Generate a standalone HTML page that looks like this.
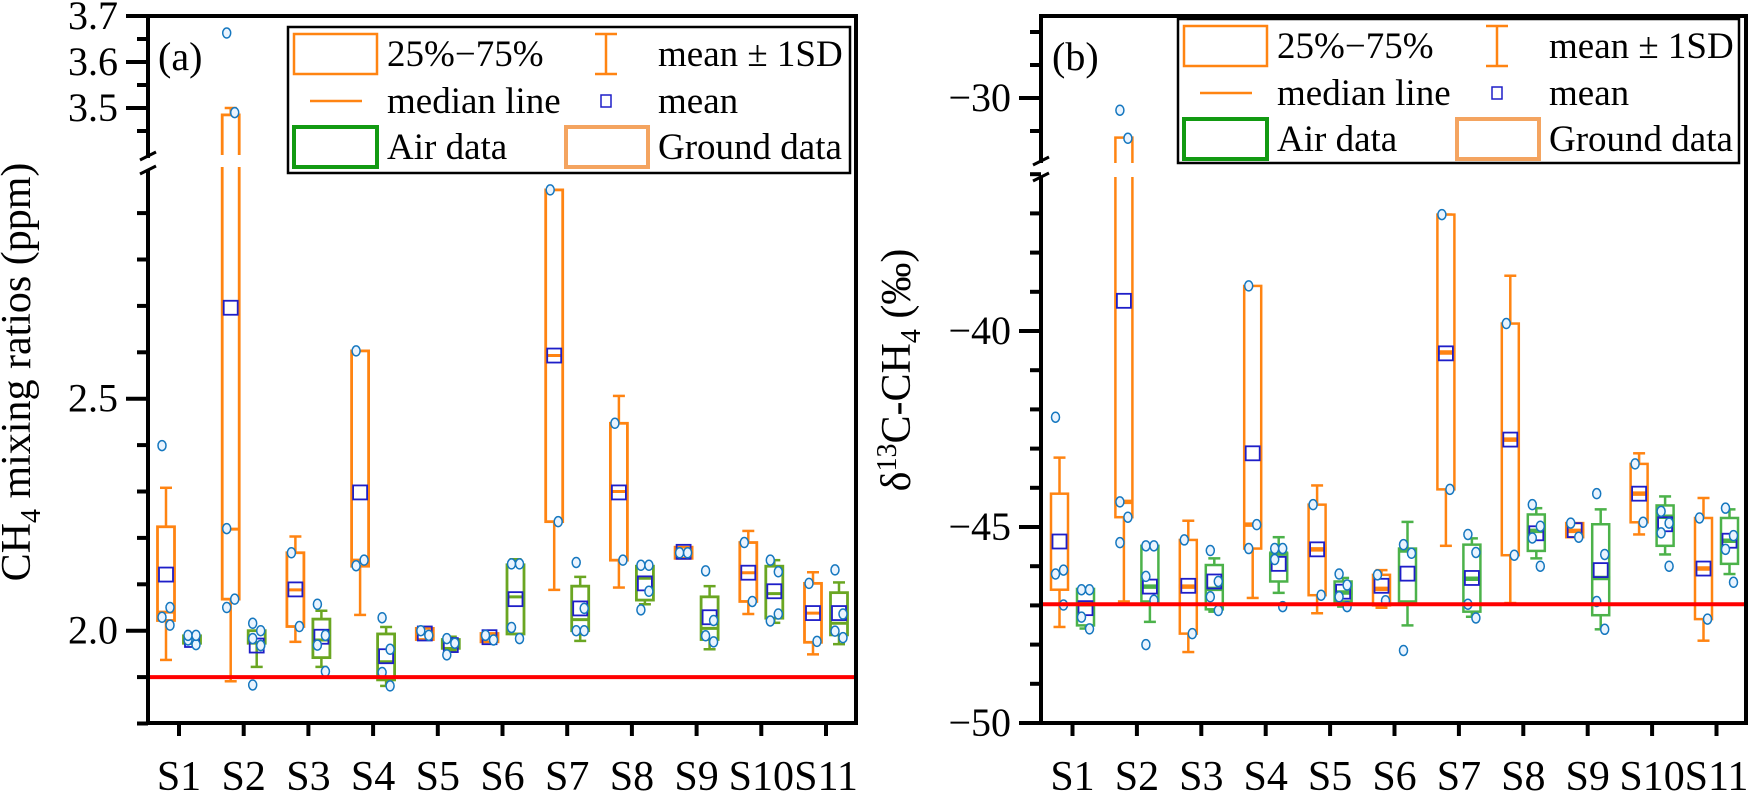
<!DOCTYPE html>
<html><head><meta charset="utf-8"><style>
html,body{margin:0;padding:0;background:#fff;}
svg{display:block;font-family:"Liberation Serif","Times New Roman",serif;}
svg text{font-family:"Liberation Serif","Times New Roman",serif;}
</style></head><body>
<svg id="chart" width="1751" height="793" viewBox="0 0 1751 793" xmlns="http://www.w3.org/2000/svg">
<g id="layer"></g>
</svg>
<script>
const sites = ["S1","S2","S3","S4","S5","S6","S7","S8","S9","S10","S11"];
// Panel (a) CH4 ppm
const aGroundQ1 = [2.022,2.068,2.009,2.139,1.981,1.976,2.235,2.152,2.156,2.063,1.975];
const aGroundQ3 = [2.224,3.485,2.168,2.603,2.005,1.994,2.95,2.447,2.18,2.19,2.102];
const aGroundMed = [2.04,2.219,2.088,2.152,1.993,1.986,2.593,2.30,2.168,2.125,2.038];
const aGroundMean = [2.121,2.696,2.089,2.298,1.994,1.986,2.593,2.298,2.170,2.125,2.038];
const aGroundLo = [1.937,1.891,1.976,2.034,1.993,1.986,2.088,2.093,2.168,2.036,1.949];
const aGroundHi = [2.308,3.50,2.203,2.562,1.993,1.986,2.95,2.506,2.168,2.215,2.126];
const aGroundPts = [[2.399,2.012,2.029,2.05],[3.663,3.49,2.22,2.068,2.05],[2.168,2.009],[2.603,2.152,2.14],[2.0,1.99],[1.99,1.98],[2.95,2.235],[2.447,2.152],[2.168,2.168],[2.19,2.063],[2.102,1.977]];
const aAirQ1 = [1.973,1.973,1.942,1.894,1.962,1.993,2.0,2.066,1.981,2.027,1.991];
const aAirQ3 = [1.989,2.0,2.025,1.993,1.981,2.142,2.096,2.139,2.073,2.139,2.082];
const aAirMed = [1.985,1.974,1.98,1.933,1.98,2.073,2.024,2.113,2.005,2.08,2.016];
const aAirMean = [1.98,1.968,1.987,1.945,1.969,2.068,2.048,2.102,2.029,2.085,2.038];
const aAirLo = [1.972,1.922,1.922,1.881,1.957,1.993,1.978,2.057,1.96,2.017,1.971];
const aAirHi = [1.99,2.0,2.043,2.008,1.987,2.154,2.116,2.139,2.096,2.152,2.104];
const aAirPts = [[1.98,1.97,1.99,1.99],[2.016,2.0,1.983,1.968,1.883,1.968],[2.057,1.99,1.969,1.912],[2.028,1.96,1.91,1.881],[1.983,1.973,1.948],[2.144,2.144,2.007,1.983],[2.147,2.048,2.0,2.0],[2.141,2.085,2.045,2.141],[2.129,2.022,1.989,1.976],[2.152,2.036,2.021,2.127],[2.131,2.036,1.999,1.985]];
const aRef = 1.90;
const aTickLabels = ["2.0","2.5","3.5","3.6","3.7"];
const aTickValues = [2.0,2.5,3.5,3.6,3.7];
// Panel (b) d13C permil
const bGroundQ1 = [-46.6,-44.75,-47.72,-45.55,-46.74,-47.0,-44.04,-45.72,-45.26,-44.88,-47.35];
const bGroundQ3 = [-44.15,-31.2,-45.33,-38.85,-44.43,-46.22,-37.03,-39.81,-44.9,-43.39,-44.77];
const bGroundMed = [-46.15,-44.36,-46.52,-44.94,-45.57,-46.58,-40.55,-42.77,-45.1,-44.15,-46.06];
const bGroundMean = [-45.37,-39.23,-46.5,-43.12,-45.57,-46.5,-40.57,-42.77,-45.08,-44.15,-46.06];
const bGroundLo = [-47.55,-46.9,-48.19,-46.81,-47.2,-47.06,-45.48,-46.94,-45.1,-45.19,-47.9];
const bGroundHi = [-43.23,-31.5,-44.84,-39.4,-43.94,-46.1,-37.03,-38.59,-45.1,-43.12,-44.26];
const bGroundPts = [[-42.2,-46.1,-46.2,-46.99],[-30.37,-31.22,-44.36,-44.75,-45.4],[-45.33,-47.72],[-38.85,-44.94,-45.55],[-44.43,-46.74],[-46.22,-46.88],[-37.03,-44.04],[-39.81,-45.72],[-44.9,-45.26],[-43.39,-44.88],[-44.77,-47.35]];
const bAirQ1 = [-47.51,-46.9,-47.1,-46.39,-46.9,-46.9,-47.16,-45.61,-47.25,-45.48,-45.94];
const bAirQ3 = [-46.58,-45.48,-45.97,-45.68,-46.39,-45.55,-45.45,-44.68,-44.93,-44.45,-44.77];
const bAirMed = [-46.97,-46.52,-46.58,-45.68,-46.67,-45.6,-46.32,-45.1,-46.3,-44.74,-45.35];
const bAirMean = [-47.07,-46.52,-46.39,-45.94,-46.65,-46.19,-46.3,-45.16,-46.1,-44.93,-45.35];
const bAirLo = [-47.59,-47.42,-47.16,-46.68,-47.03,-47.51,-47.29,-45.8,-47.61,-45.7,-46.2];
const bAirHi = [-46.55,-45.48,-45.8,-45.26,-46.3,-44.87,-45.29,-44.52,-44.55,-44.22,-44.55];
const bAirPts = [[-46.6,-46.6,-47.3,-47.6],[-45.48,-45.48,-46.26,-46.87,-48.0],[-45.6,-46.39,-46.78,-47.13],[-45.55,-45.55,-45.83,-47.03],[-46.2,-46.48,-46.78,-47.03],[-45.45,-45.67,-48.15],[-45.19,-45.65,-46.97,-47.32],[-44.43,-44.98,-45.28,-46.0],[-44.15,-45.7,-46.9,-47.61],[-44.6,-44.9,-45.15,-46.0],[-44.52,-45.22,-45.57,-46.41]];
const bRef = -46.97;
const bTickLabels = ["\u221250","\u221245","\u221240","\u221230"];
const bTickValues = [-50,-45,-40,-30];

const NS = "http://www.w3.org/2000/svg";
const FONT = '"Liberation Serif","Times New Roman",serif';
const layer = document.getElementById('layer');
function mk(tag, attrs, parent){const e=document.createElementNS(NS,tag);for(const k in attrs)e.setAttribute(k,attrs[k]);if(tag==='text')e.setAttribute('font-family',FONT);(parent||layer).appendChild(e);return e;}

const ORANGE="#FF8412", BLUE="#1E1EC8", PT="#1577BF";

function panel(cfg){
  const g = mk('g',{});
  
  
  const {L,R,T,B,y,xTick} = cfg;
  const xs = i => xTick(i);
  function drawBox(i, off, q1,q3,med,mean,lo,hi,pts,col,kind){
    const cx = xs(i)+off, w=17;
    const bg = mk('g',{},g);
    
    
    mk('line',{x1:cx,x2:cx,y1:y(lo),y2:y(hi),stroke:col,'stroke-width':2.5},bg);
    mk('line',{x1:cx-6,x2:cx+6,y1:y(lo),y2:y(lo),stroke:col,'stroke-width':2.5},bg);
    mk('line',{x1:cx-6,x2:cx+6,y1:y(hi),y2:y(hi),stroke:col,'stroke-width':2.5},bg);
    const yt=y(q3), yb=y(q1);
    mk('rect',{x:cx-w/2,y:yt,width:w,height:Math.max(yb-yt,1),fill:'#fff',stroke:col,'stroke-width':cfg.bw},bg);
    mk('line',{x1:cx-w/2-1,x2:cx+w/2+1,y1:y(med),y2:y(med),stroke:col,'stroke-width':cfg.mw},bg);
    if(cfg.gap && yt<cfg.gap[0] && yb>cfg.gap[1]) mk('rect',{x:cx-w,y:cfg.gap[0],width:2*w,height:cfg.gap[1]-cfg.gap[0],fill:'#fff'},bg);
    mk('rect',{x:cx-7,y:y(mean)-7,width:14,height:14,fill:'none',stroke:BLUE,'stroke-width':1.8},bg);
    pts.forEach((p,j)=>{
      const c=mk('ellipse',{cx:cx+((j%2)?4:-4),cy:y(p),rx:4,ry:5,fill:'#EAF4FF',stroke:PT,'stroke-width':1.5},bg);
      
      
    });
  }
  for(let i=0;i<sites.length;i++){
    drawBox(i,-13,cfg.gQ1[i],cfg.gQ3[i],cfg.gMed[i],cfg.gMean[i],cfg.gLo[i],cfg.gHi[i],cfg.gPts[i],ORANGE,'ground');
    drawBox(i,13,cfg.aQ1[i],cfg.aQ3[i],cfg.aMed[i],cfg.aMean[i],cfg.aLo[i],cfg.aHi[i],cfg.aPts[i],cfg.airCol,'air');
  }
  const ref = mk('line',{x1:L,x2:R,y1:y(cfg.ref),y2:y(cfg.ref),stroke:'#FF0000','stroke-width':4},g);
  
  
  const fr = mk('path',{d:`M${L},${cfg.brk[0]} L${L},${T} L${R},${T} L${R},${B} L${L},${B} L${L},${cfg.brk[1]}`,fill:'none',stroke:'#000','stroke-width':4},g);
  
  
  mk('line',{x1:L-8,x2:L+8,y1:cfg.brk[0]+2,y2:cfg.brk[0]-6,stroke:'#000','stroke-width':3},g);
  mk('line',{x1:L-8,x2:L+8,y1:cfg.brk[1]+4,y2:cfg.brk[1]-4,stroke:'#000','stroke-width':3},g);
  cfg.minor.forEach(v=>{mk('line',{x1:L-11,x2:L,y1:y(v),y2:y(v),stroke:'#000','stroke-width':4},g);});
  cfg.tv.forEach((v,k)=>{
    mk('line',{x1:L-22,x2:L,y1:y(v),y2:y(v),stroke:'#000','stroke-width':4},g);
    const t=mk('text',{x:L-30,y:y(v)+13,'font-size':40,'text-anchor':'end'},g);
    t.textContent=cfg.tl[k];
    
    
  });
  sites.forEach((s,i)=>{
    mk('line',{x1:xs(i),x2:xs(i),y1:B,y2:B+13,stroke:'#000','stroke-width':4},g);
    const t=mk('text',{x:xs(i),y:790,'font-size':42,'text-anchor':'middle'},g);
    t.textContent=s;
    
    
  });
  const pl=mk('text',{x:cfg.plx,y:70,'font-size':40},g);
  pl.textContent=cfg.plabel;
  
  
  const lg=mk('g',{},g);
  
  
  const o=cfg.leg;
  mk('rect',{x:o.x,y:o.y,width:o.w,height:o.h,fill:'#fff',stroke:'#000','stroke-width':2.5},lg);
  const c1=o.x+6, c2=o.c2, r=[o.y+27,o.y+74,o.y+120];
  mk('rect',{x:c1,y:r[0]-20,width:83,height:40,fill:'none',stroke:ORANGE,'stroke-width':2.5},lg);
  mk('line',{x1:c1+16,x2:c1+68,y1:r[1],y2:r[1],stroke:ORANGE,'stroke-width':2.5},lg);
  mk('rect',{x:c1,y:r[2]-20,width:83,height:40,fill:'none',stroke:'#129A12','stroke-width':4},lg);
  mk('line',{x1:c2,x2:c2,y1:r[0]-20,y2:r[0]+20,stroke:ORANGE,'stroke-width':2.5},lg);
  mk('line',{x1:c2-11,x2:c2+11,y1:r[0]-20,y2:r[0]-20,stroke:ORANGE,'stroke-width':2.5},lg);
  mk('line',{x1:c2-11,x2:c2+11,y1:r[0]+20,y2:r[0]+20,stroke:ORANGE,'stroke-width':2.5},lg);
  mk('rect',{x:c2-5,y:r[1]-6,width:10,height:12,fill:'none',stroke:BLUE,'stroke-width':1.5},lg);
  mk('rect',{x:c2-40,y:r[2]-20,width:82,height:40,fill:'none',stroke:'#F4A460','stroke-width':4},lg);
  const labs=[[c1+93,r[0],'25%\u221275%'],[c1+93,r[1],'median line'],[c1+93,r[2],'Air data'],[c2+52,r[0],'mean \u00b1 1SD'],[c2+52,r[1],'mean'],[c2+52,r[2],'Ground data']];
  labs.forEach(a=>{const t=mk('text',{x:a[0],y:a[1]+12,'font-size':37},lg);t.textContent=a[2];});
  const at=mk('text',{transform:`translate(${cfg.tx},${cfg.ty}) rotate(-90)`,'font-size':42,'text-anchor':'middle'},g);
  at.innerHTML=cfg.title;
  
  
}

const ya = v => v>=3.2 ? 108-(v-3.5)*460 : 630.7-(v-2.0)*464;
const yb = v => v>=-34 ? 98-(v+30)*33 : 723-(v+50)*39.2;
const aMinor=[];for(let k=0;k<12;k++){const v=1.8+k*0.1;if(Math.abs(v-2.0)>0.01&&Math.abs(v-2.5)>0.01)aMinor.push(v);}
aMinor.push(3.45,3.55,3.65);
const bMinor=[];for(let v=-49;v<=-36;v++){if(v!==-45&&v!==-40)bMinor.push(v);}bMinor.push(-31,-29,-28);

panel({name:'panel-a-ch4',L:148,R:856,T:16,B:723,y:ya,xTick:i=>179+i*64.7,bw:2.8,mw:3,airCol:'#6AA622',
 gQ1:aGroundQ1,gQ3:aGroundQ3,gMed:aGroundMed,gMean:aGroundMean,gLo:aGroundLo,gHi:aGroundHi,gPts:aGroundPts,
 aQ1:aAirQ1,aQ3:aAirQ3,aMed:aAirMed,aMean:aAirMean,aLo:aAirLo,aHi:aAirHi,aPts:aAirPts,
 ref:aRef,tv:aTickValues,tl:aTickLabels,minor:aMinor,brk:[158,170],gap:[155,167],plabel:'(a)',plx:158,
 leg:{x:288,y:27,w:562,h:146,c2:606},tx:30,ty:372,
 title:'CH<tspan font-size="28" dy="10">4</tspan><tspan dy="-10"> mixing ratios (ppm)</tspan>'});
panel({name:'panel-b-d13c',L:1041,R:1746,T:16,B:723,y:yb,xTick:i=>1072.5+i*64.4,bw:2.5,mw:4.5,airCol:'#4CB24A',
 gQ1:bGroundQ1,gQ3:bGroundQ3,gMed:bGroundMed,gMean:bGroundMean,gLo:bGroundLo,gHi:bGroundHi,gPts:bGroundPts,
 aQ1:bAirQ1,aQ3:bAirQ3,aMed:bAirMed,aMean:bAirMean,aLo:bAirLo,aHi:bAirHi,aPts:bAirPts,
 ref:bRef,tv:bTickValues,tl:bTickLabels,minor:bMinor,brk:[163,177],gap:[163,177],plabel:'(b)',plx:1052,
 leg:{x:1178,y:19,w:561,h:144,c2:1497},tx:910,ty:370,
 title:'\u03b4<tspan font-size="28" dy="-14">13</tspan><tspan dy="14">C-CH</tspan><tspan font-size="28" dy="10">4</tspan><tspan dy="-10"> (\u2030)</tspan>'});
</script>
</body></html>
